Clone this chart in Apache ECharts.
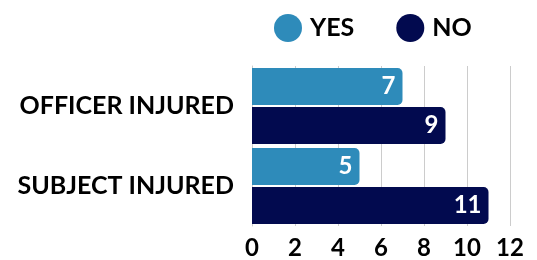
<!DOCTYPE html>
<html>
<head>
<meta charset="utf-8">
<script src="https://cdn.jsdelivr.net/npm/echarts@6/dist/echarts.min.js"></script>
<style>
  html, body { margin: 0; padding: 0; background: #fff; }
  #chart { width: 537px; height: 260px; }
</style>
</head>
<body>
<div id="chart"></div>
<script>
  const categories = ["OFFICER INJURED", "SUBJECT INJURED"];
  const yesValues = [7, 5];
  const noValues = [9, 11];
  const seriesNames = ["YES", "NO"];

  const myChart = echarts.init(document.getElementById("chart"));
  const font = "Lato, 'Noto Sans', sans-serif";

  const labelStyle = {
    show: true,
    position: "insideRight",
    color: "#fff",
    fontFamily: font,
    fontWeight: "bold",
    fontSize: 24,
    distance: 7
  };

  const option = {
    animation: false,
    textStyle: { fontFamily: font },
    legend: {
      data: seriesNames,
      top: 9,
      left: 269,
      icon: "circle",
      itemWidth: 28,
      itemHeight: 28,
      itemGap: 42,
      textStyle: { color: "#000", fontSize: 25, fontWeight: "bold", fontFamily: font, padding: [0, 0, 0, 3] }
    },
    grid: {
      left: 252,
      right: 27,
      top: 66,
      height: 170
    },
    xAxis: {
      type: "value",
      min: 0,
      max: 12,
      interval: 2,
      axisLine: { show: false },
      axisTick: { show: false },
      axisLabel: { color: "#000", fontSize: 24, fontWeight: "bold", fontFamily: font, margin: 10 },
      splitLine: { lineStyle: { color: "#cccccc", width: 1 } }
    },
    yAxis: {
      type: "category",
      inverse: true,
      data: categories,
      axisLine: { show: true, lineStyle: { color: "#cccccc" } },
      axisTick: { show: false },
      axisLabel: { color: "#000", fontSize: 25, fontWeight: "bold", fontFamily: font, margin: 18 }
    },
    series: [
      {
        name: "YES",
        type: "bar",
        data: yesValues,
        barWidth: 37,
        barGap: "5%",
        itemStyle: { color: "#2E8BBA", borderRadius: [0, 5, 5, 0] },
        label: labelStyle
      },
      {
        name: "NO",
        type: "bar",
        data: noValues,
        barWidth: 37,
        itemStyle: { color: "#020A4F", borderRadius: [0, 5, 5, 0] },
        label: labelStyle
      }
    ]
  };

  myChart.setOption(option);
</script>
</body>
</html>
